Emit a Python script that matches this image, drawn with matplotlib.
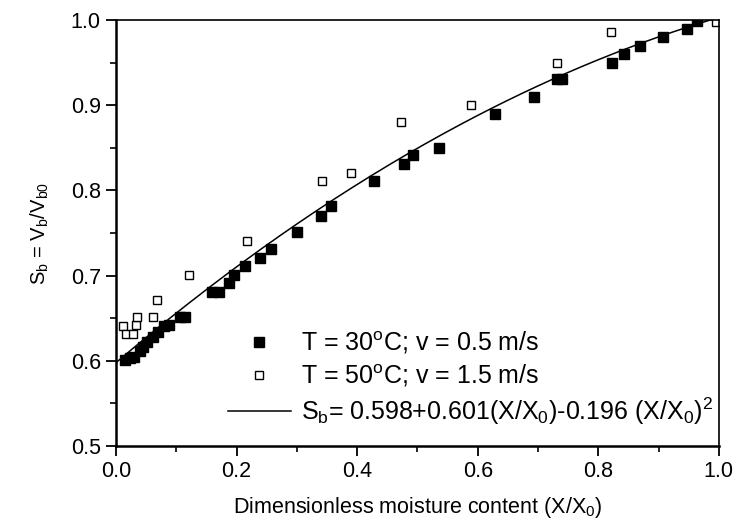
import numpy as np
import matplotlib
matplotlib.use("Agg")
import matplotlib.pyplot as plt
from matplotlib.ticker import MultipleLocator

plt.rcParams['font.family'] = ['Liberation Sans', 'DejaVu Sans']
plt.rcParams['mathtext.fontset'] = 'custom'
plt.rcParams['mathtext.rm'] = 'Liberation Sans'
plt.rcParams['mathtext.it'] = 'Liberation Sans'
plt.rcParams['mathtext.default'] = 'regular'

# Data: T = 30 C, v = 0.5 m/s (filled squares)
x30 = [0.015, 0.023, 0.030, 0.039, 0.045, 0.052, 0.062, 0.070, 0.080, 0.087,
       0.106, 0.114, 0.159, 0.170, 0.188, 0.195, 0.213, 0.238, 0.257, 0.300,
       0.340, 0.357, 0.428, 0.478, 0.493, 0.536, 0.629, 0.693, 0.732, 0.739,
       0.822, 0.843, 0.870, 0.908, 0.948, 0.963]
y30 = [0.601, 0.603, 0.605, 0.612, 0.616, 0.622, 0.628, 0.634, 0.641, 0.642,
       0.651, 0.651, 0.681, 0.681, 0.691, 0.701, 0.711, 0.721, 0.731, 0.751,
       0.770, 0.782, 0.811, 0.831, 0.841, 0.850, 0.890, 0.910, 0.931, 0.931,
       0.950, 0.960, 0.970, 0.980, 0.990, 0.999]

# Data: T = 50 C, v = 1.5 m/s (open squares)
x50 = [0.011, 0.017, 0.028, 0.033, 0.034, 0.062, 0.067, 0.121, 0.217, 0.342,
       0.390, 0.472, 0.588, 0.732, 0.821, 0.996]
y50 = [0.641, 0.631, 0.631, 0.642, 0.652, 0.652, 0.671, 0.701, 0.741, 0.811,
       0.821, 0.880, 0.900, 0.950, 0.986, 0.998]

# Fit coefficients
c0, c1, c2 = 0.598, 0.601, -0.196

xticks = [0.0, 0.2, 0.4, 0.6, 0.8, 1.0]
yticks = [0.5, 0.6, 0.7, 0.8, 0.9, 1.0]

fig = plt.figure(figsize=(7.35, 5.26), dpi=100)
ax = fig.add_axes([0.158, 0.152, 0.820, 0.810])

xf = np.linspace(0, 1, 200)
line, = ax.plot(xf, c0 + c1 * xf + c2 * xf ** 2, color='black', lw=1.1)
h30, = ax.plot(x30, y30, 's', color='black', ms=6.8, mec='black', ls='none')
h50, = ax.plot(x50, y50, 's', mfc='white', mec='black', ms=6.2, mew=1.0, ls='none')

ax.set_xlim(0, 1.0)
ax.set_ylim(0.5, 1.0)
ax.set_xticks(xticks)
ax.set_yticks(yticks)
ax.set_xticklabels([f'{t:.1f}' for t in xticks])
ax.set_yticklabels([f'{t:.1f}' for t in yticks])
ax.xaxis.set_minor_locator(MultipleLocator(0.1))
ax.yaxis.set_minor_locator(MultipleLocator(0.05))
ax.tick_params(which='major', direction='out', length=7, width=1.3, labelsize=15.5,
               top=False, right=False, pad=4)
ax.tick_params(which='minor', direction='out', length=4.5, width=1.2,
               top=False, right=False)
for s in ['left', 'bottom']:
    ax.spines[s].set_linewidth(1.8)
for s in ['top', 'right']:
    ax.spines[s].set_linewidth(1.2)

ax.set_xlabel('Dimensionless moisture content (X/X$_0$)', fontsize=15.5, labelpad=9)
ax.set_ylabel('S$_b$ = V$_b$/V$_{b0}$', fontsize=14.5, labelpad=14)

leg = ax.legend([h30, h50, line],
                ['T = 30$^o$C; v = 0.5 m/s',
                 'T = 50$^o$C; v = 1.5 m/s',
                 'S$_b$= 0.598+0.601(X/X$_0$)-0.196 (X/X$_0$)$^2$'],
                loc='lower left', bbox_to_anchor=(0.186, 0.045), frameon=False,
                fontsize=18, handlelength=2.5, handletextpad=0.4,
                labelspacing=0.25, borderpad=0.0, borderaxespad=0.0)

fig.savefig('out.png', dpi=100)
